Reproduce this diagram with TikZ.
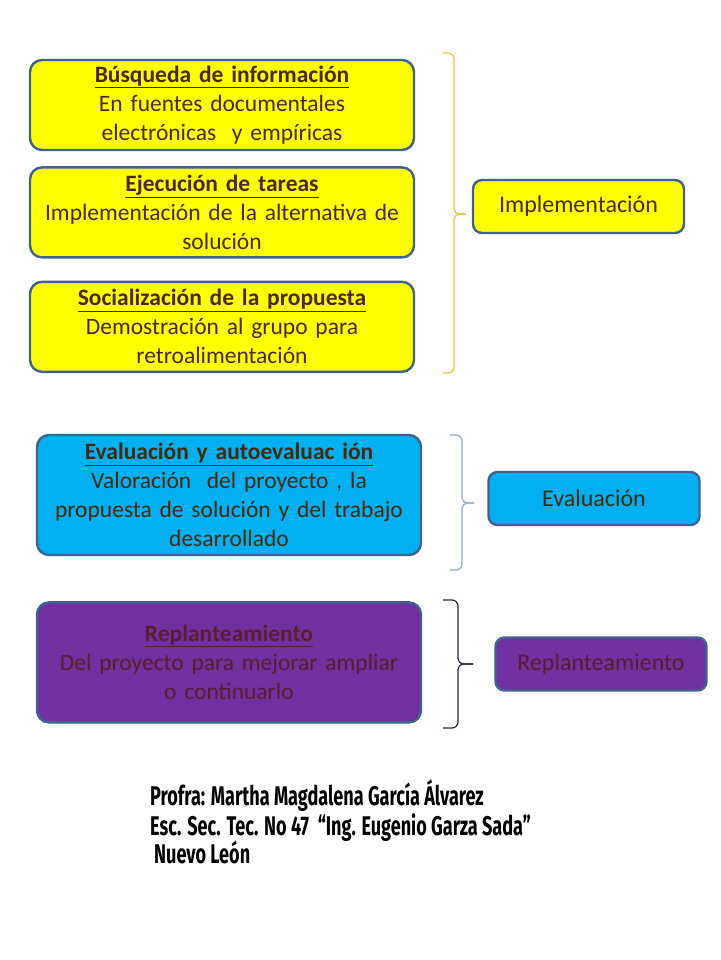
\documentclass[tikz,border=0pt]{standalone}
\usepackage{fontspec}
\setmainfont{Carlito}
\newfontfamily\footfont{Fira Sans}
\usepackage{graphicx}
\usepackage{tikz}
\usetikzlibrary{calc, positioning}
\definecolor{boxline}{HTML}{41618F}
\definecolor{txtbrown}{HTML}{4A2810}
\definecolor{txtmaroon}{HTML}{5A1E30}
\definecolor{fillyellow}{HTML}{FFFF00}
\definecolor{fillblue}{HTML}{00B0F0}
\definecolor{fillpurple}{HTML}{7030A0}
\definecolor{bracegold}{HTML}{F0C040}
\definecolor{braceblue}{HTML}{8EA9D2}
\definecolor{bracedark}{HTML}{1E2840}
\tikzset{
    node distance = 15pt and 30pt,% gap between the stacked boxes
    taskbox/.style = {rectangle, rounded corners=12pt, draw=boxline, line width=2.4pt, minimum width=384pt, text width=378pt, align=center, inner sep=1pt, font=\fontsize{23.5}{29}\selectfont, text=txtbrown},
    phasebox/.style = {rectangle, rounded corners=9pt, draw=boxline, line width=2.4pt, minimum width=211pt, minimum height=53pt, font=\fontsize{24}{26}\selectfont, text=txtbrown},
    bracket/.style = {line width=1.2pt, rounded corners=6pt},
    signline/.style = {anchor=base west, inner sep=0pt, font=\footfont\bfseries\fontsize{27}{28}\selectfont}
}
\begin{document}
\begin{tikzpicture}[x=1pt, y=-1pt]
    \useasboundingbox (0,0) rectangle (720,960);
    % left column
    \node[taskbox, fill=fillyellow, minimum height=90pt] (busq) at (222,105) {{\bfseries\underline{Búsqueda de información}}\\ En fuentes documentales\\ electrónicas\ \ y empíricas};
    \node[taskbox, fill=fillyellow, minimum height=90pt] (ejec) [below = of busq] {{\bfseries\underline{Ejecución de tareas}}\\ Implementación de la alternativa de\\ solución};
    \node[taskbox, fill=fillyellow, minimum height=90pt] (soc) [below = of ejec, below=22pt] {{\bfseries\underline{Socialización de la propuesta}}\\ Demostración al grupo para\\ retroalimentación};
    \node[taskbox, fill=fillblue, minimum height=120pt] (eval) at (229,495) {{\bfseries\underline{Evaluación y autoevaluac ión}}\\ Valoración\ \ del proyecto , la\\ propuesta de solución y del trabajo\\ desarrollado};
    \node[taskbox, fill=fillpurple, minimum height=120pt, text=txtmaroon] (repl) [below = of eval, below=45pt] {{\bfseries\underline{Replanteamiento}}\\ Del proyecto para mejorar ampliar\\ o continuarlo};
    % right column
    \node[phasebox, fill=fillyellow] (impl) at (578.5,206.5) {Implementación};
    \node[phasebox, fill=fillblue] (evalph) at (594,498.5) {Evaluación};
    \node[phasebox, fill=fillpurple, text=txtmaroon] (replph) at (601,664) {Replanteamiento};
    % brackets
    \draw[bracket, bracegold] (443,53) -- (454,53) -- (454,214) -- (466,214);
    \draw[bracket, bracegold] (443,373) -- (454,373) -- (454,214) -- (466,214);
    \draw[bracket, braceblue] (450,435) -- (462,435) -- (462,503) -- (474,503);
    \draw[bracket, braceblue] (450,570) -- (462,570) -- (462,503) -- (474,503);
    \draw[bracket, bracedark] (443,600) -- (458,600) -- (458,664) -- (473,664);
    \draw[bracket, bracedark] (443,728) -- (458,728) -- (458,664) -- (473,664);
    % footer
    \node[signline] (firma1) at (150,805) {\scalebox{0.67}[1]{Profra: Martha Magdalena García Álvarez}};
    \node[signline] (firma2) at (150,835) {\scalebox{0.67}[1]{Esc. Sec. Tec. No 47\ \ “Ing. Eugenio Garza Sada”}};
    \node[signline] (firma3) at (154,863) {\scalebox{0.67}[1]{Nuevo León}};
\end{tikzpicture}
\end{document}
